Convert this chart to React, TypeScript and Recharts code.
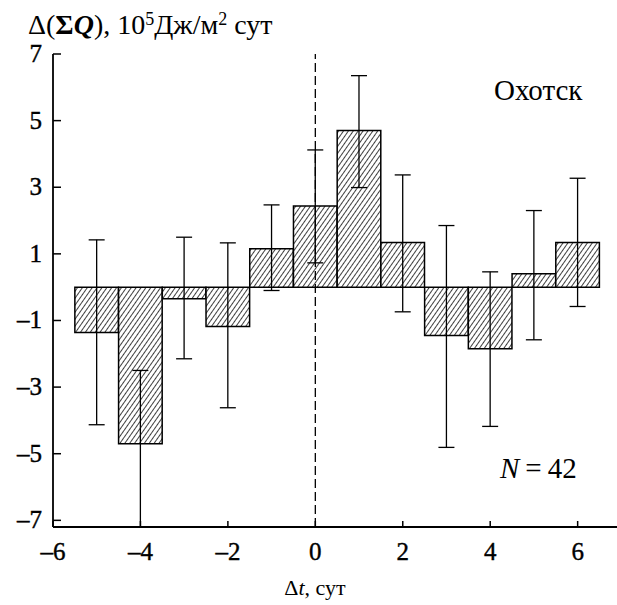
import React from "react";
import { BarChart, Bar, XAxis, YAxis, ErrorBar, ReferenceLine } from "recharts";

// Δt, days relative to event
const days = [-5, -4, -3, -2, -1, 0, 1, 2, 3, 4, 5, 6];
// Δ(ΣQ), 10^5 J/m² per day
const dQ = [-1.36, -4.7, -0.35, -1.18, 1.15, 2.44, 4.7, 1.34, -1.45, -1.85, 0.4, 1.34];
const errHigh = [1.42, -2.5, 1.5, 1.33, 2.47, 4.12, 6.35, 3.37, 1.85, 0.46, 2.3, 3.27];
const errLow = [-4.13, -7.2, -2.15, -3.62, -0.1, 0.73, 2.99, -0.74, -4.81, -4.18, -1.58, -0.58];

const xTicks = [-6, -4, -2, 0, 2, 4, 6];
const yTicks = [-7, -5, -3, -1, 1, 3, 5, 7];

const data = days.map((d, i) => ({
  day: d,
  value: dQ[i],
  err: [dQ[i] - errLow[i], errHigh[i] - dQ[i]],
}));

const FONT = "Liberation Serif";
const fmt = (v: number) => (v < 0 ? "\u2013" + Math.abs(v) : String(v));

const YTick = (props: any) => {
  const { x, y, payload } = props;
  return (
    <g>
      <line x1={x} y1={y} x2={x + 8} y2={y} stroke="#000" strokeWidth={1.5} />
      <text
        x={x - 11}
        y={y + 8}
        textAnchor="end"
        style={{ fontFamily: FONT, fontSize: 25 }}
        fill="#000"
        stroke="#000"
        strokeWidth={0.4}
      >
        {fmt(payload.value)}
      </text>
    </g>
  );
};

const XTick = (props: any) => {
  const { x, y, payload } = props;
  return (
    <g>
      <line x1={x} y1={y} x2={x} y2={y - 6} stroke="#000" strokeWidth={1.5} />
      <text
        x={x}
        y={y + 33}
        textAnchor="middle"
        style={{ fontFamily: FONT, fontSize: 25 }}
        fill="#000"
        stroke="#000"
        strokeWidth={0.4}
      >
        {fmt(payload.value)}
      </text>
    </g>
  );
};

export default function App() {
  return (
    <div
      style={{
        position: "absolute",
        left: 0,
        top: 0,
        width: 617,
        height: 605,
        background: "#fff",
        fontFamily: FONT,
        color: "#000",
      }}
    >
      <BarChart
        width={617}
        height={605}
        data={data}
        margin={{ top: 54, right: 0, bottom: 0, left: 0 }}
        barCategoryGap={0}
        barGap={0}
        style={{ fontFamily: FONT }}
      >
        <defs>
          <pattern
            id="hatch"
            patternUnits="userSpaceOnUse"
            width={4}
            height={4}
            patternTransform="rotate(35)"
          >
            <rect width={4} height={4} fill="#fff" />
            <line x1={0} y1={0} x2={0} y2={4} stroke="#000" strokeWidth={1.5} />
          </pattern>
        </defs>
        <XAxis
          dataKey="day"
          type="number"
          domain={[-6, 6.9]}
          ticks={xTicks}
          height={78}
          tickSize={0}
          tickMargin={0}
          tickLine={false}
          axisLine={{ stroke: "#000", strokeWidth: 1.8 }}
          tick={<XTick />}
          interval={0}
        />
        <YAxis
          type="number"
          domain={[-7.2, 7]}
          ticks={yTicks}
          width={53}
          tickSize={0}
          tickMargin={0}
          tickLine={false}
          axisLine={{ stroke: "#000", strokeWidth: 1.8 }}
          tick={<YTick />}
          interval={0}
          allowDataOverflow
        />
        <ReferenceLine x={0} stroke="#000" strokeWidth={1.3} strokeDasharray="9 4" />
        <Bar
          dataKey="value"
          barSize={43.6}
          fill="url(#hatch)"
          stroke="#000"
          strokeWidth={1.5}
          isAnimationActive={false}
        >
          <ErrorBar dataKey="err" width={8} stroke="#000" strokeWidth={1.3} direction="y" />
        </Bar>
      </BarChart>

      <div style={{ position: "absolute", left: 28, top: 5, fontSize: 28, lineHeight: "28px", whiteSpace: "nowrap" }}>
        Δ(<b>Σ<i>Q</i></b>), 10<sup style={{ fontSize: 18, verticalAlign: 9 }}>5</sup>Дж/м
        <sup style={{ fontSize: 18, verticalAlign: 9 }}>2</sup> сут
      </div>
      <div style={{ position: "absolute", left: 494, top: 76, fontSize: 29, lineHeight: "29px" }}>Охотск</div>
      <div style={{ position: "absolute", left: 500, top: 454, fontSize: 29, lineHeight: "29px", whiteSpace: "nowrap" }}>
        <i>N</i>
        <span style={{ margin: "0 6px" }}>=</span>42
      </div>
      <div
        style={{
          position: "absolute",
          left: 215,
          width: 200,
          textAlign: "center",
          top: 577,
          fontSize: 22,
          lineHeight: "22px",
          whiteSpace: "nowrap",
        }}
      >
        Δ<i>t</i>, сут
      </div>
    </div>
  );
}
